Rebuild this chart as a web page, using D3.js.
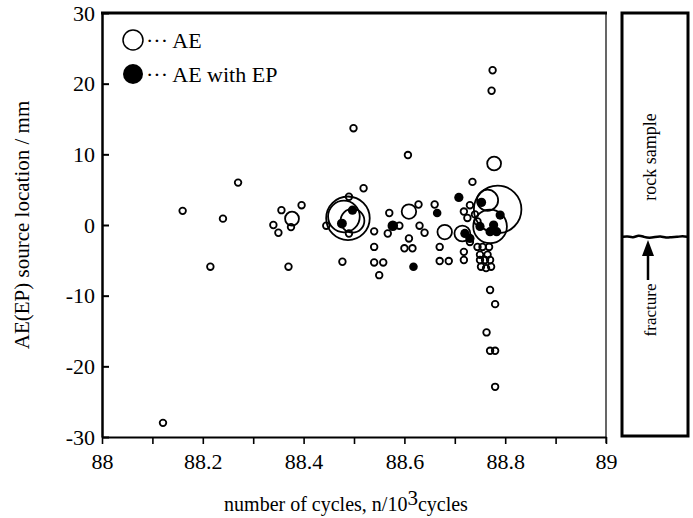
<!DOCTYPE html>
<html>
<head>
<meta charset="utf-8">
<script src="https://cdn.jsdelivr.net/npm/d3@7"></script>
<style>
  body { margin: 0; background: #fff; }
  text { font-family: "Liberation Serif", "Times New Roman", serif; fill: #000; }
</style>
</head>
<body>
<div id="chart"></div>
<script>
// AE source locations (open circles)
var aeCycles = [88.121, 88.16, 88.215, 88.24, 88.27, 88.34, 88.35, 88.356, 88.377, 88.375,
	88.396, 88.37, 88.445, 88.499, 88.519, 88.49, 88.488, 88.48, 88.497, 88.49,
	88.54, 88.54, 88.477, 88.54, 88.558, 88.55, 88.57, 88.59, 88.567, 88.609,
	88.628, 88.607, 88.609, 88.60, 88.616, 88.63, 88.64, 88.66, 88.67, 88.67,
	88.688, 88.68, 88.715, 88.718, 88.735, 88.778, 88.775, 88.773, 88.785, 88.77,
	88.765, 88.73, 88.725, 88.74, 88.745, 88.73, 88.718, 88.718, 88.745, 88.755,
	88.768, 88.75, 88.765, 88.75, 88.76, 88.77, 88.752, 88.762, 88.772, 88.77,
	88.78, 88.763, 88.77, 88.78, 88.78];
var aeLoc = [-28.0, 2.0, -5.9, 0.9, 6.0, 0.0, -1.1, 2.1, 0.9, -0.3,
	2.8, -5.9, -0.1, 13.7, 5.2, 4.0, 0.95, 1.2, 0.6, -1.2,
	-0.9, -3.1, -5.2, -5.3, -5.3, -7.1, 1.7, -0.1, -1.2, 1.9,
	2.9, 9.9, -1.9, -3.3, -3.3, -0.1, -1.1, 2.9, -3.1, -5.1,
	-5.1, -1.0, -1.2, 1.9, 6.1, 8.7, 21.9, 19.0, 2.2, -0.2,
	3.5, 2.8, 1.0, 1.5, 0.5, -2.4, -3.8, -4.95, -3.1, -3.1,
	-3.1, -4.2, -4.2, -4.95, -4.95, -4.95, -5.9, -6.1, -5.9, -9.2,
	-11.2, -15.2, -17.8, -17.8, -22.9];
// relative amplitude (circle size)
var aeAmp = [1, 1, 1, 1, 1, 1, 1, 1, 2.1, 1,
	1, 1, 1, 1, 1, 1, 6.6, 4.8, 3.6, 1,
	1, 1, 1, 1, 1, 1, 1, 1, 1, 2.2,
	1, 1, 1, 1, 1, 1, 1, 1, 1, 1,
	1, 2.2, 2.4, 1, 1, 2.1, 1, 1, 7.2, 5.1,
	3.2, 1, 1, 1, 1, 1, 1, 1, 1, 1,
	1, 1, 1, 1, 1, 1, 1, 1, 1, 1,
	1, 1, 1, 1, 1];

// AE with EP (filled circles)
var epCycles = [88.497, 88.476, 88.577, 88.618, 88.665, 88.708, 88.753, 88.79, 88.75, 88.777,
	88.77, 88.783, 88.72, 88.73];
var epLoc = [2.1, 0.2, -0.1, -5.9, 1.7, 3.9, 3.2, 1.4, -0.2, 0.0,
	-0.95, -0.95, -1.2, -1.9];
var epAmp = [1.4, 1.5, 1.6, 1.3, 1.3, 1.4, 1.4, 1.4, 1.4, 1.4,
	1.4, 1.4, 1.4, 1.4];

var xTicks = [88, 88.1, 88.2, 88.3, 88.4, 88.5, 88.6, 88.7, 88.8, 88.9, 89];
var xLabels = [88, 88.2, 88.4, 88.6, 88.8, 89];
var yTicks = [-30, -20, -10, 0, 10, 20, 30];

function load() {

	// sizes
	var width = 693, height = 518;
	var margin = { top: 13, right: 87, bottom: 81, left: 102 };

	var svg = d3.select("#chart")
		.append("svg")
		.attr("width", width)
		.attr("height", height);

	// scales
	var x = d3.scaleLinear()
		.domain([88, 89])
		.range([margin.left, width - margin.right]);

	var y = d3.scaleLinear()
		.domain([-30, 30])
		.range([height - margin.bottom, margin.top]);

	var r = d3.scaleLinear()
		.domain([0, 1])
		.range([0, 3.3]);

	// frame: thick top line, thin right line
	svg.append("line")
		.attr("x1", x(88) - 1).attr("x2", x(89) + 1)
		.attr("y1", y(30)).attr("y2", y(30))
		.attr("stroke", "#000").attr("stroke-width", 3);
	svg.append("line")
		.attr("x1", x(89)).attr("x2", x(89))
		.attr("y1", y(30)).attr("y2", y(-30) + 6)
		.attr("stroke", "#000").attr("stroke-width", 1.2);

	// x axis
	var xAxis = svg.append("g")
		.attr("transform", "translate(0," + y(-30) + ")")
		.call(d3.axisBottom(x)
			.tickValues(xTicks)
			.tickSize(7)
			.tickSizeOuter(0)
			.tickPadding(9)
			.tickFormat(function(d) {
				return xLabels.some(function(l) { return Math.abs(l - d) < 1e-9; }) ? d3.format("")(+d.toFixed(1)) : "";
			}));
	xAxis.select(".domain").attr("stroke-width", 2);
	xAxis.selectAll(".tick line").attr("stroke-width", 1.6);
	xAxis.selectAll("text")
		.style("font-family", "Liberation Serif")
		.style("font-size", "22px");

	// y axis, ticks inside
	var yAxis = svg.append("g")
		.attr("transform", "translate(" + x(88) + ",0)")
		.call(d3.axisLeft(y)
			.tickValues(yTicks)
			.tickSize(-7)
			.tickSizeOuter(0)
			.tickPadding(7)
			.tickFormat(function(d) { return String(d); }));
	yAxis.select(".domain").attr("stroke-width", 2.5);
	yAxis.selectAll(".tick line").attr("stroke-width", 2);
	yAxis.selectAll("text")
		.style("font-family", "Liberation Serif")
		.style("font-size", "22px");

	// axis titles
	svg.append("text")
		.attr("transform", "translate(29," + y(0) + ") rotate(-90)")
		.attr("text-anchor", "middle")
		.style("font-size", "21px")
		.text("AE(EP) source location / mm");

	var xt = svg.append("text")
		.attr("x", (x(88) + x(89)) / 2 - 8)
		.attr("y", 511)
		.attr("text-anchor", "middle")
		.style("font-size", "20px");
	xt.append("tspan").text("number of cycles, n/10");
	xt.append("tspan").attr("dy", -6).style("font-size", "21px").text("3");
	xt.append("tspan").attr("dy", 6).text("cycles");

	// AE points
	svg.append("g")
		.selectAll("circle")
		.data(aeCycles)
		.enter().append("circle")
		.attr("cx", function(d) { return x(d); })
		.attr("cy", function(d, i) { return y(aeLoc[i]); })
		.attr("r", function(d, i) { return r(aeAmp[i]); })
		.attr("fill", "none")
		.attr("stroke", "#000")
		.attr("stroke-width", 1.8);

	// AE with EP points
	svg.append("g")
		.selectAll("circle")
		.data(epCycles)
		.enter().append("circle")
		.attr("cx", function(d) { return x(d); })
		.attr("cy", function(d, i) { return y(epLoc[i]); })
		.attr("r", function(d, i) { return r(epAmp[i]); })
		.attr("fill", "#000");

	// legend
	var leg = svg.append("g");
	leg.append("circle")
		.attr("cx", 133).attr("cy", 40).attr("r", 10)
		.attr("fill", "none").attr("stroke", "#000").attr("stroke-width", 1.5);
	leg.append("text")
		.attr("x", 146).attr("y", 48)
		.style("font-size", "22px")
		.text("\u00b7\u00b7\u00b7 AE");
	leg.append("circle")
		.attr("cx", 133).attr("cy", 74).attr("r", 10)
		.attr("fill", "#000");
	leg.append("text")
		.attr("x", 146).attr("y", 82)
		.style("font-size", "22px")
		.text("\u00b7\u00b7\u00b7 AE with EP");

	// rock sample sketch on the right
	var panel = { x0: 622, x1: 688, y0: 13, y1: 436, crack: 237 };
	var side = svg.append("g");
	side.append("rect")
		.attr("x", panel.x0).attr("y", panel.y0)
		.attr("width", panel.x1 - panel.x0)
		.attr("height", panel.y1 - panel.y0)
		.attr("fill", "none")
		.attr("stroke", "#000")
		.attr("stroke-width", 3);

	// wavy crack
	var wave = [0, -1, 1, -2, 0, 1, 0, -1, 1, 0, 0, -1, 0];
	var crack = d3.line()
		.x(function(d, i) { return panel.x0 + i * (panel.x1 - panel.x0) / (wave.length - 1); })
		.y(function(d) { return panel.crack + d; })
		.curve(d3.curveBasis);
	side.append("path")
		.attr("d", crack(wave))
		.attr("fill", "none")
		.attr("stroke", "#000")
		.attr("stroke-width", 2.5);

	side.append("text")
		.attr("transform", "translate(656,157) rotate(-90)")
		.attr("text-anchor", "middle")
		.style("font-size", "18px")
		.text("rock sample");

	side.append("text")
		.attr("transform", "translate(656,310) rotate(-90)")
		.attr("text-anchor", "middle")
		.style("font-size", "17px")
		.text("fracture");

	// arrow pointing at the crack
	side.append("line")
		.attr("x1", 648).attr("x2", 648)
		.attr("y1", 280).attr("y2", 252)
		.attr("stroke", "#000").attr("stroke-width", 2.5);
	side.append("path")
		.attr("d", d3.line()([[642, 256], [654, 256], [648, 240]]) + "Z")
		.attr("fill", "#000");
}

load();
</script>
</body>
</html>
